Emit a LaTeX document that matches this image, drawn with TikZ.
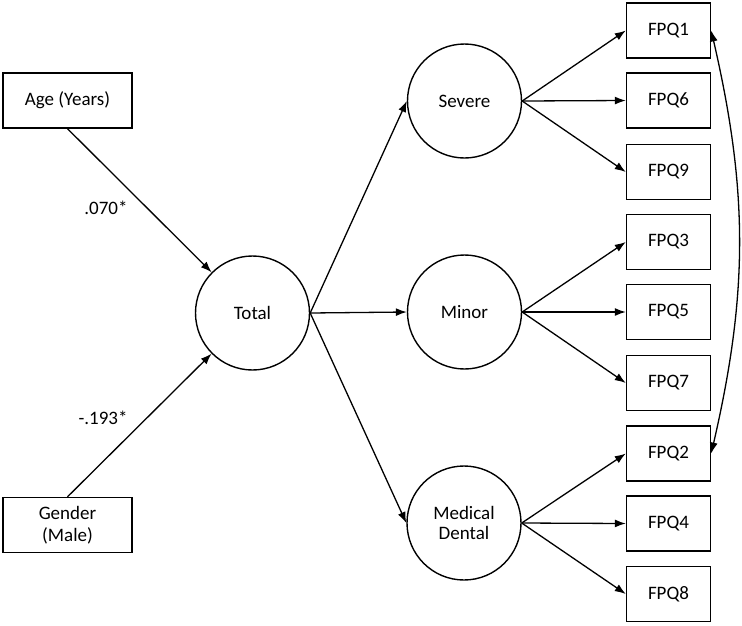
\documentclass[tikz,border=0pt]{standalone}
\usepackage{fontspec}
\setmainfont{Carlito}
\usetikzlibrary{arrows.meta}
\begin{document}
\begin{tikzpicture}[x=1pt,y=-1pt,
  txt/.style={font=\fontsize{19}{22}\selectfont},
  box/.style={txt, draw, line width=1.4pt, minimum width=84pt, minimum height=55pt, inner sep=0pt, align=center},
  wbox/.style={box, minimum width=129pt},
  lat/.style={txt, draw, circle, line width=1.4pt, minimum size=114pt, inner sep=0pt, align=center},
  arr/.style={line width=1.3pt, -{Latex[length=11pt,width=8pt]}},
  darr/.style={line width=1.3pt, {Latex[length=11pt,width=8pt]}-{Latex[length=11pt,width=8pt]}}]
\useasboundingbox (0,0) rectangle (742,625);
\node[wbox] (age) at (67.5,100.5) {Age (Years)};
\node[wbox, font=\fontsize{19}{22}\selectfont] (gender) at (67.5,525) {Gender\\(Male)};
\node[lat] (total) at (252.5,313) {Total};
\node[lat] (severe) at (464.5,101) {Severe};
\node[lat] (minor) at (464.5,312) {Minor};
\node[lat, font=\fontsize{19}{20}\selectfont] (medical) at (464,523) {Medical\\Dental};
\node[box] (q1) at (668.5,30.5) {FPQ1};
\node[box] (q6) at (668.5,100.5) {FPQ6};
\node[box] (q9) at (668.5,172) {FPQ9};
\node[box] (q3) at (668.5,242) {FPQ3};
\node[box] (q5) at (668.5,312) {FPQ5};
\node[box] (q7) at (668.5,383) {FPQ7};
\node[box] (q2) at (668.5,453.5) {FPQ2};
\node[box] (q4) at (668.5,523.5) {FPQ4};
\node[box] (q8) at (668.5,594) {FPQ8};
\node[txt] (l1) at (106,208) {.070*};
\node[txt] (l2) at (103,418) {-.193*};
\draw[arr] (age.south) -- (total);
\draw[arr] (gender.north) -- (total);
\draw[arr] (total.east) -- (severe.west);
\draw[arr] (total.east) -- (minor.west);
\draw[arr] (total.east) -- (medical.west);
\foreach \s/\a/\b/\c in {severe/q1/q6/q9, minor/q3/q5/q7, medical/q2/q4/q8}{
  \draw[arr] (\s.east) -- (\a.west);
  \draw[arr] (\s.east) -- (\b.west);
  \draw[arr] (\s.east) -- (\c.west);
}
\draw[darr] (q1.east) to[bend left=13] (q2.east);
\end{tikzpicture}
\end{document}
